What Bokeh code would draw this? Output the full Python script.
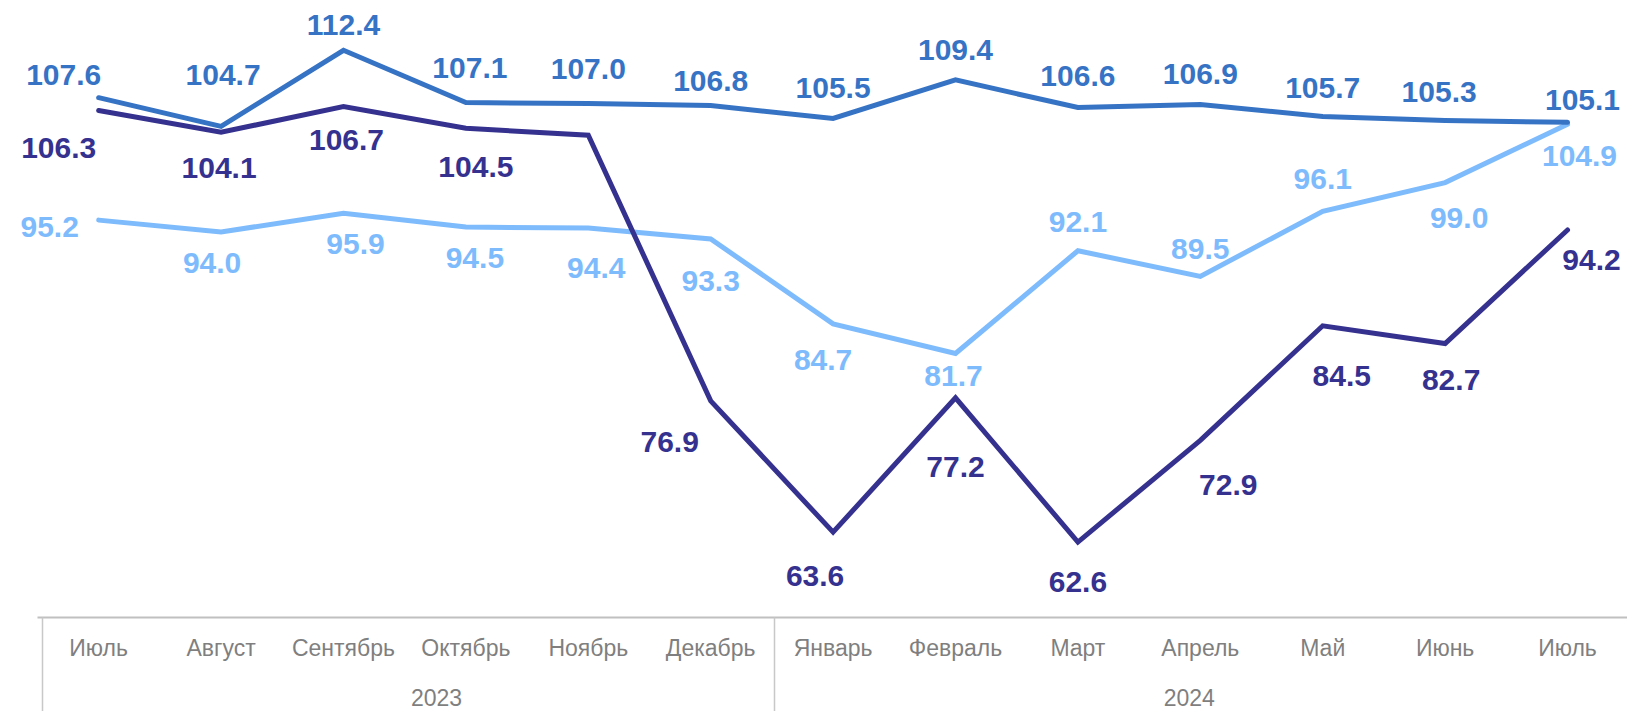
from bokeh.plotting import figure
from bokeh.models import ColumnDataSource, Range1d, FixedTicker, LinearAxis
from bokeh.embed import file_html
from bokeh.resources import INLINE
from bokeh.core.properties import value

months = ["Июль", "Август", "Сентябрь", "Октябрь", "Ноябрь", "Декабрь",
          "Январь", "Февраль", "Март", "Апрель", "Май", "Июнь", "Июль"]
years = ["2023", "2024"]

series_top = [107.6, 104.7, 112.4, 107.1, 107.0, 106.8, 105.5, 109.4, 106.6, 106.9, 105.7, 105.3, 105.1]
series_dark = [106.3, 104.1, 106.7, 104.5, 103.8, 76.9, 63.6, 77.2, 62.6, 72.9, 84.5, 82.7, 94.2]
series_light = [95.2, 94.0, 95.9, 94.5, 94.4, 93.3, 84.7, 81.7, 92.1, 89.5, 96.1, 99.0, 104.9]
dark_hidden_labels = [4]

C_TOP = "#3673C5"
C_DARK = "#35318F"
C_LIGHT = "#7DBBFD"
GREY = "#7f7f7f"

# label offsets in screen pixels (style only)
off_top = [(-35, -23), (2, -51), (0, -25), (4, -35), (0, -35), (0, -25), (0, -30),
           (0, -30), (0, -32), (0, -31), (0, -28), (-6, -28), (15, -22)]
off_light = [(-49, 7), (-9, 31), (12, 31), (9, 31), (8, 40), (0, 42), (-10, 36),
             (-2, 23), (0, -29), (0, -27), (0, -32), (14, 35), (12, 32)]
off_dark = [(-40, 37), (-2, 36), (3, 33), (10, 39), (0, 0), (-41, 41), (-18, 44),
            (0, 69), (0, 40), (28, 45), (19, 50), (6, 36), (24, 30)]

xs = list(range(len(months)))

p = figure(width=1627, height=711,
           x_range=Range1d(-0.802, 12.49), y_range=Range1d(54.96, 117.44),
           output_backend="svg", toolbar_location=None,
           y_axis_location=None,
           min_border_left=0, min_border_right=0, min_border_top=0, min_border_bottom=94)
p.outline_line_color = None
p.grid.visible = False
p.background_fill_color = "white"
p.border_fill_color = "white"


def make_source(vals, offs, hidden=()):
    labels = ["" if i in hidden else f"{v:.1f}" for i, v in enumerate(vals)]
    return ColumnDataSource(dict(x=xs, y=vals, label=labels,
                                 dx=[o[0] for o in offs], dy=[o[1] for o in offs]))


src_top = make_source(series_top, off_top)
src_dark = make_source(series_dark, off_dark, dark_hidden_labels)
src_light = make_source(series_light, off_light)

for src, col in [(src_light, C_LIGHT), (src_top, C_TOP), (src_dark, C_DARK)]:
    p.line("x", "y", source=src, line_color=col, line_width=5,
           line_join="miter", line_cap="round")

for src, col in [(src_light, C_LIGHT), (src_top, C_TOP), (src_dark, C_DARK)]:
    p.text("x", "y", text="label", source=src, x_offset="dx", y_offset="dy",
           text_color=col, text_font=value("Liberation Sans"), text_font_style="bold",
           text_font_size="30px", text_align="center", text_baseline="middle")

SEP_LEN = 94
ax = p.xaxis[0]
ax.bounds = (-0.5, 12.49)
ax.ticker = FixedTicker(ticks=xs, minor_ticks=[-0.462, 5.518])
ax.major_label_overrides = {i: m for i, m in enumerate(months)}
ax.major_tick_line_color = None
ax.major_tick_in = 0
ax.major_tick_out = 0
ax.minor_tick_in = 0
ax.minor_tick_out = SEP_LEN
ax.minor_tick_line_color = "#c8c8c8"
ax.minor_tick_line_width = 1.5
ax.axis_line_color = "#c0c0c0"
ax.axis_line_width = 2
ax.major_label_text_font = "Liberation Sans"
ax.major_label_text_font_size = "23px"
ax.major_label_text_color = GREY
ax.major_label_standoff = 17 - SEP_LEN

year_pos = [2.76, 8.91]
yax = LinearAxis(ticker=FixedTicker(ticks=year_pos),
                 major_label_overrides={pos: y for pos, y in zip(year_pos, years)})
yax.axis_line_color = None
yax.major_tick_line_color = None
yax.minor_tick_line_color = None
yax.major_tick_in = 0
yax.major_tick_out = 0
yax.major_label_text_font = "Liberation Sans"
yax.major_label_text_font_size = "23px"
yax.major_label_text_color = GREY
yax.major_label_standoff = 25
p.add_layout(yax, "below")

open("out.html", "w").write(file_html(p, INLINE))
